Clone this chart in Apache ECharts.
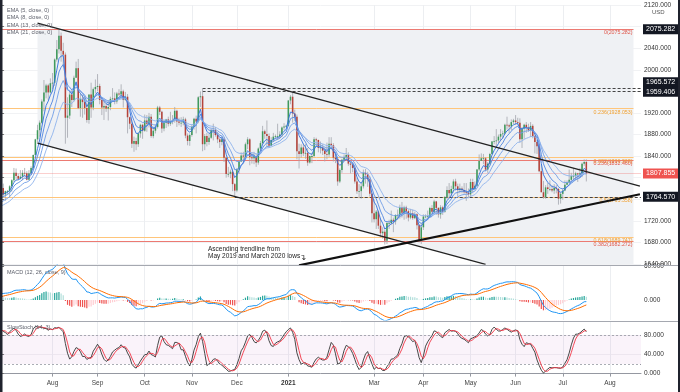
<!DOCTYPE html>
<html><head><meta charset="utf-8">
<script src="https://cdn.jsdelivr.net/npm/echarts@6.0.0/dist/echarts.min.js"></script>
<style>html,body{margin:0;padding:0;background:#fff}#c{width:680px;height:392px}</style>
</head><body><div id="c"></div>
<script>
// ---------- axis / calendar ----------
const startDate = '2020-06-30';
const axisDayCount = 299;
const tickDates = ['2020-08-03','2020-09-01','2020-10-01','2020-11-02','2020-12-01','2021-01-04','2021-03-01','2021-04-01','2021-05-03','2021-06-01','2021-07-01','2021-08-02'];
const tickLabels = ['Aug','Sep','Oct','Nov','Dec','2021','Mar','Apr','May','Jun','Jul','Aug'];
const priceTicks = {min:1640, max:2120, interval:40};

// ---------- warm-up history (Jun 2020) for the indicators ----------
const warmHigh  = [1745,1745,1730,1719,1727,1700,1721,1740,1745,1741,1735,1737,1732,1733,1745,1755,1769,1779,1767,1772,1775];
const warmLow   = [1727,1722,1694,1696,1671,1678,1696,1712,1720,1718,1704,1713,1716,1711,1721,1738,1743,1760,1751,1757,1762];
const warmClose = [1739,1727,1699,1714,1685,1698,1715,1738,1728,1730,1726,1727,1726,1722,1744,1754,1768,1762,1761,1771,1772];

// ---------- daily candles from 2020-06-30 ----------
const open = [1771,1781,1769,1775,1775,1784,1795,1809,1803,1798,
1802,1809,1808,1796,1808,1818,1842,1871,1888,1902,
1941,1958,1971,1958,1975,1976,2019,2038,2063,2035,
2028,1911,1915,1954,1944,1985,2003,1929,1946,1940,
1929,1907,1954,1930,1964,1968,1970,1944,1930,1933,
1928,1931,1946,1947,1941,1956,1954,1960,1944,1950,
1912,1900,1863,1868,1862,1882,1898,1887,1906,1900,
1913,1877,1887,1894,1930,1922,1891,1902,1908,1900,
1904,1907,1924,1904,1902,1902,1908,1878,1868,1879,
1894,1909,1904,1949,1951,1862,1877,1866,1874,1888,
1888,1879,1871,1866,1871,1837,1807,1807,1811,1788,
1776,1815,1830,1841,1839,1862,1871,1838,1836,1840,
1828,1854,1864,1886,1881,1877,1859,1870,1876,1877,
1877,1880,1893,1895,1896,1943,1950,1919,1913,1849,
1844,1856,1845,1846,1828,1840,1840,1871,1870,1855,
1856,1850,1844,1843,1863,1860,1837,1834,1793,1814,
1833,1838,1842,1826,1824,1818,1793,1775,1775,1784,
1809,1806,1797,1770,1734,1723,1737,1711,1697,1700,
1683,1716,1716,1722,1719,1731,1731,1745,1735,1745,
1738,1726,1734,1725,1732,1712,1684,1708,1728,1728,
1729,1744,1737,1756,1744,1732,1745,1737,1764,1777,
1771,1779,1793,1784,1777,1780,1777,1773,1772,1769,
1792,1779,1785,1815,1831,1836,1836,1815,1826,1844,
1867,1868,1869,1876,1881,1882,1898,1897,1895,1903,
1906,1903,1902,1871,1891,1898,1893,1888,1896,1877,
1866,1858,1812,1773,1764,1782,1779,1779,1776,1781,
1779,1761,1770,1776,1787,1791,1796,1803,1803,1808,
1806,1808,1826,1829];
const high = [1785,1789,1776,1777,1786,1797,1818,1817,1808,1814,
1814,1818,1812,1814,1821,1843,1872,1898,1906,1945,
1981,1974,1974,1984,1994,2021,2055,2075.28,2069,2050,
2032,1949,1960,1963,1989,2015,2020,1956,1953,1950,
1939,1954,1976,1967,1982,1992,1974,1949,1946,1937,
1944,1950,1966,1958,1959,1964,1973,1963,1959,1955,
1913,1906,1876,1874,1883,1900,1900,1917,1916,1920,
1918,1894,1897,1933,1933,1924,1907,1909,1913,1922,
1916,1931,1926,1911,1912,1913,1911,1882,1882,1899,
1911,1915,1951,1960,1965.57,1881,1883,1882,1891,1900,
1894,1884,1874,1876,1875,1839,1820,1815,1817,1790,
1818,1832,1847,1848,1865,1875,1873,1847,1848,1844,
1856,1868,1896,1889,1906,1882,1875,1883,1880,1900,
1886,1895,1901,1898,1944,1953,1959.41,1926,1917,1863,
1862,1863,1862,1855,1841,1846,1875,1874,1870,1867,
1862,1856,1865,1875,1875,1864,1845,1839,1817,1835,
1843,1855,1847,1829,1828,1824,1800,1788,1790,1815,
1816,1811,1802,1772,1760,1740,1739,1724,1708,1703,
1719,1722,1739,1726,1732,1741,1750,1755,1748,1748,
1741,1742,1741,1737,1734,1714,1716,1732,1732,1739,
1746,1749,1759,1757,1745,1749,1748,1766,1784,1790,
1785,1797,1798,1789,1789,1784,1790,1790,1780,1798,
1798,1793,1816,1843,1845,1844,1838,1829,1846,1868,
1877,1890,1880,1890,1887,1900,1913,1900,1908,1909,
1916,1911,1910,1894,1900,1903,1900,1903,1899,1880,
1870,1864,1825,1794,1786,1790,1795,1786,1788,1786,
1781,1773,1780,1795,1795,1815,1809,1818,1811,1809,
1818,1828,1834,1834];
const low = [1768,1763,1757,1770,1763,1774,1792,1796,1795,1797,
1795,1802,1795,1795,1806,1816,1841,1865,1876,1900,
1923,1947,1944,1956,1964,1970,2015,2030,2015,2005,
1863,1874,1909,1931,1941,1985,1927,1913,1911,1917,
1902,1900,1911,1925,1956,1960,1936,1916,1907,1922,
1906,1925,1940,1936,1937,1951,1947,1930,1942,1882,
1890,1855,1848,1851,1857,1874,1872,1885,1885,1893,
1874,1873,1882,1891,1916,1883,1886,1892,1895,1896,
1899,1902,1894,1897,1894,1897,1873,1860,1859,1876,
1889,1882,1901,1931,1849,1851,1858,1861,1872,1869,
1876,1864,1855,1860,1829,1800,1801,1799,1775,1764.57,
1773,1807,1829,1826,1834,1853,1823,1826,1825,1820,
1824,1850,1861,1872,1856,1855,1859,1866,1873,1871,
1873,1875,1888,1893,1895,1936,1902,1905,1834,1817,
1837,1840,1835,1822,1826,1827,1838,1858,1847,1845,
1842,1830,1834,1838,1852,1830,1827,1785,1790,1809,
1830,1835,1822,1808,1810,1789,1770,1762,1761,1780,
1789,1783,1765,1717,1717,1705,1705,1690,1687,1676,
1677,1705,1712,1699,1713,1722,1724,1726,1722,1724,
1719,1723,1722,1723,1704,1680,1677,1703,1725,1722,
1726,1733,1735,1731,1726,1724,1731,1735,1760,1763,
1765,1772,1776,1766,1771,1771,1770,1757,1762,1765,
1771,1777,1784,1812,1831,1825,1812,1809,1823,1843,
1862,1855,1864,1868,1873,1880,1889,1883,1888,1899,
1898,1897,1865,1855,1872,1883,1885,1875,1873,1845,
1844,1810,1773,1761,1761,1770,1775,1773,1770,1771,
1750,1752,1759,1775,1786,1789,1793,1797,1795,1792,
1800,1801,1822,1793];
const close = [1781,1769,1775,1775,1784,1795,1809,1803,1798,1802,
1809,1808,1796,1808,1818,1842,1871,1888,1902,1941,
1958,1971,1958,1975,1976,2019,2038,2063,2035,2028,
1911,1915,1954,1944,1985,2003,1929,1946,1940,1929,
1907,1954,1930,1964,1968,1970,1944,1930,1933,1928,
1931,1946,1947,1941,1956,1954,1960,1944,1950,1912,
1900,1863,1868,1862,1882,1898,1887,1906,1900,1913,
1877,1887,1894,1930,1922,1891,1902,1908,1900,1904,
1907,1924,1904,1902,1902,1908,1878,1868,1879,1894,
1909,1904,1949,1951,1862,1877,1866,1874,1888,1888,
1879,1871,1866,1871,1837,1807,1807,1811,1788,1776,
1815,1830,1841,1839,1862,1871,1838,1836,1840,1828,
1854,1864,1886,1881,1877,1859,1870,1876,1877,1877,
1880,1893,1895,1896,1943,1950,1919,1913,1849,1844,
1856,1845,1846,1828,1840,1840,1871,1870,1855,1856,
1850,1844,1843,1863,1860,1837,1834,1793,1814,1833,
1838,1842,1826,1824,1818,1793,1775,1775,1784,1809,
1806,1797,1770,1734,1723,1737,1711,1697,1700,1683,
1716,1716,1722,1719,1731,1731,1745,1735,1745,1738,
1726,1734,1725,1732,1712,1684,1708,1728,1728,1729,
1744,1737,1756,1744,1732,1745,1737,1764,1777,1771,
1779,1793,1784,1777,1780,1777,1773,1772,1769,1792,
1779,1785,1815,1831,1836,1836,1815,1826,1844,1867,
1868,1869,1876,1881,1882,1898,1897,1895,1903,1906,
1903,1902,1871,1891,1898,1893,1888,1896,1877,1866,
1858,1812,1773,1764,1782,1779,1779,1776,1781,1779,
1761,1770,1776,1787,1791,1796,1803,1803,1808,1806,
1808,1826,1829,1807.855];

// ---------- indicator settings ----------
const emaPeriods = [5, 8, 13, 21];
const emaLabels = ['EMA (5, close, 0)','EMA (8, close, 0)','EMA (13, close, 0)','EMA (21, close, 0)'];
const macdParams = [12, 26, 9];
const stochParams = [14, 3];

// ---------- drawings ----------
const upperChannel = [['2020-07-23', 2086.3], ['2021-08-20', 1784.5]];
const lowerChannel = [['2020-07-23', 1864.0], ['2021-05-12', 1639.5]];
const ascTrend = [['2021-01-11', 1637.5], ['2021-08-20', 1769.2]];
const shadeZone = [['2020-07-23', 2075.282], ['2021-08-17', 2075.282], ['2021-08-17', 1640], ['2021-05-12', 1640], ['2020-07-23', 1864.0]];
const fibRedLevels = ['0', '0.236', '0.382'];
const fibRedPrices = [2075.282, 1832.460, 1682.272];
const fibOrangeLevels = ['0.236', '0.382', '0.5', '0.618'];
const fibOrangePrices = [1928.053, 1836.968, 1763.358, 1689.747];
const fibEnd = '2021-08-17';
const dashedPrices = [1965.572, 1959.406, 1764.570];
const dashedFrom = ['2020-11-09', '2020-11-09', '2020-11-30'];
const boxPrices = [2075.282, 1965.572, 1959.406, 1807.855, 1764.570];
const lastPrice = 1807.855;

// ---------- build ----------
function weekdays(start, n) {
  const out = []; const d = new Date(start + 'T00:00:00Z');
  while (out.length < n) { const wd = d.getUTCDay(); if (wd !== 0 && wd !== 6) out.push(d.toISOString().slice(0, 10)); d.setUTCDate(d.getUTCDate() + 1); }
  return out;
}
const dates = weekdays(startDate, axisDayCount);
const N = dates.length;
const ix = s => dates.indexOf(s);
const tickIdx = tickDates.map(ix);
const FONT = 'Liberation Sans';

const allClose = warmClose.concat(close), allHigh = warmHigh.concat(high), allLow = warmLow.concat(low);
const off = warmClose.length;
function ema(arr, p) { const k = 2 / (p + 1); const out = []; let e = arr[0]; arr.forEach((v, i) => { e = i === 0 ? v : v * k + e * (1 - k); out.push(e); }); return out; }
function sma(arr, p) { return arr.map((v, i) => { if (i < p - 1) return null; let s = 0; for (let j = i - p + 1; j <= i; j++) { if (arr[j] == null) return null; s += arr[j]; } return s / p; }); }
const emaLines = emaPeriods.map(p => ema(allClose, p).slice(off));
const e12 = ema(allClose, macdParams[0]), e26 = ema(allClose, macdParams[1]);
const macdFull = e12.map((v, i) => v - e26[i]);
const sigFull = ema(macdFull, macdParams[2]);
const histFull = macdFull.map((v, i) => v - sigFull[i]);
const raw = allClose.map((c, i) => { if (i < stochParams[0] - 1) return null; let hh = -Infinity, ll = Infinity; for (let j = i - stochParams[0] + 1; j <= i; j++) { hh = Math.max(hh, allHigh[j]); ll = Math.min(ll, allLow[j]); } return (c - ll) / (hh - ll) * 100; });
const kFull = sma(raw, stochParams[1]), dFull = sma(kFull, stochParams[1]);

const candleData = close.map((c, i) => [i, open[i], c, low[i], high[i]]);
const ser = arr => arr.map((v, i) => [i, v]);
const histData = close.map((c, i) => {
  const h = histFull[off + i], p = histFull[off + i - 1];
  const col = h >= 0 ? (h >= p ? '#26a69a' : '#b2dfdb') : (h < p ? '#ef5350' : '#ffcdd2');
  return { value: [i, h], itemStyle: { color: col } };
});
const pt = a => [ix(a[0]), a[1]];

// level lines (markLine)
const mlData = [];
const fibLine = (lvl, price, lineCol, txtCol) => mlData.push([
  { coord: [-0.5, price], lineStyle: { color: lineCol, width: 1, type: 'solid' },
    label: { show: true, position: 'insideEndBottom', distance: 1, formatter: lvl + '(' + price.toFixed(3) + ')', color: txtCol, fontSize: 5.3, fontFamily: FONT } },
  { coord: [ix(fibEnd), price] }]);
fibOrangeLevels.forEach((l, k) => fibLine(l, fibOrangePrices[k], '#ffc57a', '#f0a030'));
fibRedLevels.forEach((l, k) => fibLine(l, fibRedPrices[k], '#ec7a72', '#e0584c'));
mlData.push([{ coord: [-0.5, lastPrice], lineStyle: { color: 'rgba(239,83,80,0.28)', width: 1, type: 'solid' }, label: { show: false } }, { coord: [N - 0.5, lastPrice] }]);
dashedPrices.forEach((p, k) => mlData.push([{ coord: [ix(dashedFrom[k]), p], lineStyle: { color: '#444', width: 1, type: [3, 2] }, label: { show: false } }, { coord: [N - 0.5, p] }]));
const boxOffsets = [0, -6, 0, 0, 0];
boxPrices.forEach((p, k) => mlData.push([{ coord: [N - 0.7, p], lineStyle: { color: 'rgba(0,0,0,0)', width: 0 },
  label: { show: true, position: 'end', distance: 2, formatter: p.toFixed(3), color: '#fff', backgroundColor: p === lastPrice ? '#ef5350' : '#131722',
    padding: [2, 3, 1, 3], fontSize: 7, fontFamily: FONT, offset: [0, boxOffsets[k]] } }, { coord: [N - 0.5, p] }]));

const xAxisFor = (gi, show) => ({
  type: 'value', gridIndex: gi, min: -0.5, max: N - 0.5,
  axisLine: { show: show, lineStyle: { color: '#9598a1' } },
  axisTick: { show: show, customValues: tickIdx, length: 3, lineStyle: { color: '#9598a1' } },
  axisLabel: { show: show, customValues: tickIdx, margin: 6, fontSize: 6.5, color: '#444', fontFamily: FONT,
    formatter: v => { const t = tickLabels[tickIdx.indexOf(v)]; return t === '2021' ? '{b|2021}' : t; },
    rich: { b: { fontWeight: 'bold', fontSize: 6.5, color: '#333', fontFamily: FONT } } },
  splitLine: { show: true, lineStyle: { color: '#eceef1', width: 1 } }
});
const yLab = { fontSize: 6.5, color: '#333', margin: 3, fontFamily: FONT };

const option = {
  animation: false,
  textStyle: { fontFamily: FONT },
  grid: [
    { left: 0, right: 39, top: 5, height: 259 },
    { left: 0, right: 39, top: 265, height: 55 },
    { left: 0, right: 39, top: 321, height: 52.6 }
  ],
  xAxis: [xAxisFor(0, false), xAxisFor(1, false), xAxisFor(2, true)],
  yAxis: [
    { type: 'value', gridIndex: 0, position: 'right', min: priceTicks.min, max: priceTicks.max, interval: priceTicks.interval,
      axisLine: { show: true, lineStyle: { color: '#9598a1' } }, axisTick: { show: true, length: 3, lineStyle: { color: '#777' } },
      axisLabel: Object.assign({}, yLab, { formatter: v => boxPrices.some(b => Math.abs(b - v) < 20) ? '' : v.toFixed(3) }),
      splitLine: { lineStyle: { color: '#f1f2f4' } } },
    { type: 'value', gridIndex: 1, position: 'right', min: -35.3, max: 61.8,
      axisLine: { show: true, lineStyle: { color: '#9598a1' } }, axisTick: { show: true, length: 3, customValues: [0, 60], lineStyle: { color: '#777' } },
      axisLabel: Object.assign({}, yLab, { customValues: [0, 60], formatter: v => v.toFixed(3) }), splitLine: { show: false } },
    { type: 'value', gridIndex: 2, position: 'right', min: 0, max: 109, interval: 40,
      axisLine: { show: true, lineStyle: { color: '#9598a1' } }, axisTick: { show: true, length: 3, lineStyle: { color: '#777' } },
      axisLabel: Object.assign({}, yLab, { showMaxLabel: false, formatter: v => v.toFixed(3) }), splitLine: { lineStyle: { color: '#f1f2f4' } } }
  ],
  series: [
    { type: 'custom', name: 'zone', xAxisIndex: 0, yAxisIndex: 0, z: 1, silent: true, data: [[0, 1700]],
      renderItem: (params, api) => ({ type: 'polygon', shape: { points: shadeZone.map(p => api.coord(pt(p))) }, style: { fill: '#eff1f4' } }) },
    { type: 'custom', name: 'XAUUSD', xAxisIndex: 0, yAxisIndex: 0, z: 5, data: candleData, encode: { x: 0, y: [1, 2, 3, 4] },
      renderItem: (params, api) => {
        const i = api.value(0), o = api.value(1), c = api.value(2), l = api.value(3), h = api.value(4);
        const pO = api.coord([i, o]), pC = api.coord([i, c]), pL = api.coord([i, l]), pH = api.coord([i, h]);
        const w = Math.max(1, api.size([1, 0])[0] * 0.72);
        const top = Math.min(pO[1], pC[1]), bh = Math.max(0.8, Math.abs(pO[1] - pC[1]));
        return { type: 'group', children: [
          { type: 'line', shape: { x1: pH[0], y1: pH[1], x2: pL[0], y2: pL[1] }, style: { stroke: '#a3a6ad', lineWidth: 0.8 } },
          { type: 'rect', shape: { x: pO[0] - w / 2, y: top, width: w, height: bh }, style: { fill: c >= o ? '#3f9a5c' : '#b5433a' } }
        ] };
      } },
    ...emaLines.map((arr, k) => ({ type: 'line', name: emaLabels[k], xAxisIndex: 0, yAxisIndex: 0, z: 6, data: ser(arr), showSymbol: false, silent: true,
      lineStyle: { width: 0.9, color: ['#2f6fdc', '#4f86e0', '#6f9de6', '#8fb3ec'][k] } })),
    { type: 'line', name: 'upper', xAxisIndex: 0, yAxisIndex: 0, z: 7, data: upperChannel.map(pt), showSymbol: false, silent: true, lineStyle: { color: '#222', width: 1.3 },
      markLine: { symbol: 'none', silent: true, animation: false, data: mlData } },
    { type: 'line', name: 'lower', xAxisIndex: 0, yAxisIndex: 0, z: 7, data: lowerChannel.map(pt), showSymbol: false, silent: true, lineStyle: { color: '#222', width: 1.3 } },
    { type: 'line', name: 'asc', xAxisIndex: 0, yAxisIndex: 0, z: 7, data: ascTrend.map(pt), showSymbol: false, silent: true, lineStyle: { color: '#111', width: 2.2 } },
    { type: 'bar', name: 'hist', xAxisIndex: 1, yAxisIndex: 1, data: histData, barWidth: 1.2, silent: true },
    { type: 'line', name: 'MACD', xAxisIndex: 1, yAxisIndex: 1, data: ser(macdFull.slice(off)), showSymbol: false, silent: true, lineStyle: { color: '#2196f3', width: 1 } },
    { type: 'line', name: 'Signal', xAxisIndex: 1, yAxisIndex: 1, data: ser(sigFull.slice(off)), showSymbol: false, silent: true, lineStyle: { color: '#ff6d00', width: 1 } },
    { type: 'line', name: '%K', xAxisIndex: 2, yAxisIndex: 2, z: 4, data: ser(kFull.slice(off)), showSymbol: false, silent: true, lineStyle: { color: '#333', width: 0.9 },
      markArea: { silent: true, itemStyle: { color: 'rgba(190,80,190,0.07)' }, data: [[{ yAxis: 20 }, { yAxis: 80 }]] },
      markLine: { symbol: 'none', silent: true, label: { show: false }, lineStyle: { color: '#9598a1', type: [2, 2], width: 0.8 }, data: [{ yAxis: 80 }, { yAxis: 20 }] } },
    { type: 'line', name: '%D', xAxisIndex: 2, yAxisIndex: 2, z: 5, data: ser(dFull.slice(off)), showSymbol: false, silent: true, lineStyle: { color: '#f23645', width: 0.9 } }
  ],
  graphic: [
    ...emaLabels.map((t, k) => ({ type: 'text', x: 7, y: 10 + k * 7.5, silent: true, z: 100, style: { text: t, fill: '#5d606b', fontSize: 5.5, fontFamily: FONT, verticalAlign: 'middle' } })),
    { type: 'text', x: 7, y: 272, silent: true, z: 100, style: { text: 'MACD (12, 26, close, 9)', fill: '#5d606b', fontSize: 5.5, fontFamily: FONT, verticalAlign: 'middle' } },
    { type: 'text', x: 7, y: 327, silent: true, z: 100, style: { text: 'SlowStoch (14, 3)', fill: '#5d606b', fontSize: 5.5, fontFamily: FONT, verticalAlign: 'middle' } },
    { type: 'text', x: 208, y: 249.7, silent: true, z: 100, style: { text: 'Ascending trendline from', fill: '#222', fontSize: 6.5, fontFamily: FONT, verticalAlign: 'middle' } },
    { type: 'text', x: 208, y: 256, silent: true, z: 100, style: { text: 'May 2019 and March 2020 lows', fill: '#222', fontSize: 6.5, fontFamily: FONT, verticalAlign: 'middle' } },
    { type: 'text', x: 299.5, y: 258, silent: true, z: 100, style: { text: '↴', fill: '#222', fontSize: 8, fontFamily: 'DejaVu Sans', verticalAlign: 'middle' } },
    { type: 'text', x: 652, y: 12, silent: true, z: 100, style: { text: 'USD', fill: '#555', fontSize: 6, fontFamily: FONT, verticalAlign: 'middle', backgroundColor: '#fff' } },
    { type: 'line', silent: true, z: 100, shape: { x1: 2.5, y1: 265.5, x2: 678, y2: 265.5 }, style: { stroke: '#a5a8b0', lineWidth: 1 } },
    { type: 'line', silent: true, z: 100, shape: { x1: 2.5, y1: 321.5, x2: 678, y2: 321.5 }, style: { stroke: '#a5a8b0', lineWidth: 1 } },
    { type: 'rect', silent: true, z: 100, shape: { x: 0, y: 0, width: 2.5, height: 392 }, style: { fill: '#1f222d' } },
    { type: 'rect', silent: true, z: 100, shape: { x: 678, y: 0, width: 2, height: 392 }, style: { fill: '#1f222d' } }
  ]
};
const chart = echarts.init(document.getElementById('c'), null, { renderer: 'canvas' });
chart.setOption(option);
</script>
</body></html>
